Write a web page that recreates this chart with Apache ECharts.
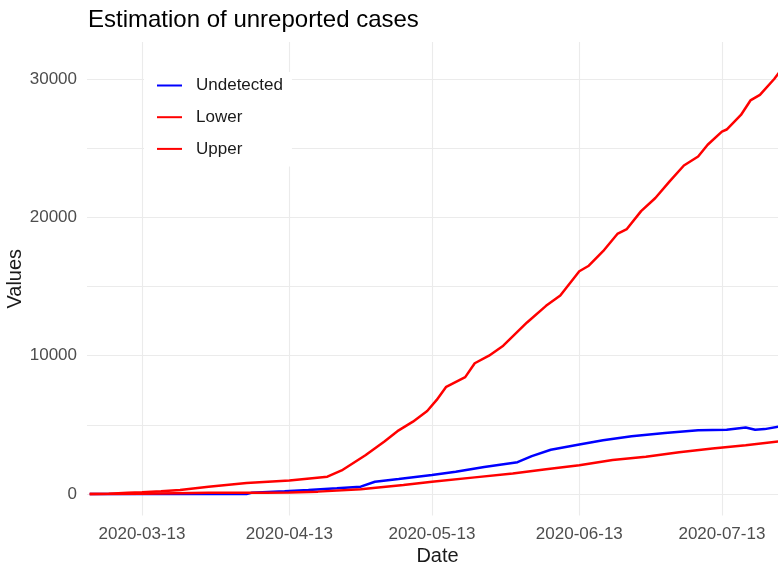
<!DOCTYPE html>
<html>
<head>
<meta charset="utf-8">
<script src="https://cdn.jsdelivr.net/npm/echarts@6/dist/echarts.min.js"></script>
<style>
  html, body { margin: 0; padding: 0; background: #fff; }
  #chart { width: 778px; height: 566px; }
</style>
</head>
<body>
<div id="chart"></div>
<script>
// values
const undetectedDates = ['2020-03-02', '2020-03-27', '2020-04-04', '2020-04-05', '2020-04-12', '2020-04-17',
    '2020-04-23', '2020-04-28', '2020-05-01', '2020-05-06', '2020-05-13', '2020-05-18', '2020-05-24',
    '2020-05-31', '2020-06-03', '2020-06-07', '2020-06-13', '2020-06-18', '2020-06-24', '2020-07-01',
    '2020-07-08', '2020-07-14', '2020-07-18', '2020-07-20', '2020-07-22', '2020-07-25']
const undetectedValues = [0, 0, 0, 80, 200, 290,
    410, 530, 880, 1080, 1370, 1610, 1950,
    2300, 2740, 3200, 3570, 3880, 4170, 4400,
    4600, 4640, 4810, 4640, 4690, 4880]

const lowerDates = ['2020-03-02', '2020-03-13', '2020-03-20', '2020-03-27', '2020-04-08', '2020-04-13',
    '2020-04-19', '2020-04-28', '2020-05-07', '2020-05-13', '2020-05-22', '2020-05-30', '2020-06-06',
    '2020-06-13', '2020-06-20', '2020-06-27', '2020-07-04', '2020-07-11', '2020-07-18', '2020-07-25']
const lowerValues = [0, 10, 60, 80, 90, 110,
    170, 340, 650, 890, 1200, 1480, 1785,
    2070, 2450, 2690, 3020, 3285, 3520, 3810]

const upperDates = ['2020-03-02', '2020-03-06', '2020-03-10', '2020-03-13', '2020-03-17', '2020-03-21',
    '2020-03-27', '2020-04-04', '2020-04-13', '2020-04-21', '2020-04-24', '2020-04-29', '2020-05-03',
    '2020-05-06', '2020-05-09', '2020-05-12', '2020-05-14', '2020-05-16', '2020-05-20', '2020-05-22',
    '2020-05-25', '2020-05-28', '2020-06-02', '2020-06-06', '2020-06-09', '2020-06-13', '2020-06-15',
    '2020-06-18', '2020-06-21', '2020-06-23', '2020-06-26', '2020-06-29', '2020-07-02', '2020-07-05',
    '2020-07-08', '2020-07-10', '2020-07-13', '2020-07-14', '2020-07-17', '2020-07-19', '2020-07-21',
    '2020-07-24', '2020-07-25']
const upperValues = [0, 20, 80, 120, 200, 290,
    530, 800, 980, 1250, 1700, 2800, 3800,
    4600, 5230, 6000, 6800, 7750, 8450, 9450,
    10000, 10720, 12400, 13600, 14350, 16100, 16500,
    17550, 18800, 19150, 20450, 21400, 22600, 23750,
    24400, 25250, 26200, 26350, 27400, 28450, 28850,
    30000, 30450]

const dateTicks = ['2020-03-13', '2020-04-13', '2020-05-13', '2020-06-13', '2020-07-13']
const valueTicks = [0, 10000, 20000, 30000]
const gridTicks = [0, 5000, 10000, 15000, 20000, 25000, 30000]

const DAY = 24 * 3600 * 1000
const FONT = '"Liberation Sans", Arial, sans-serif'

let chart = echarts.init(document.getElementById('chart'))

function toTime(d) {
    return +echarts.number.parseDate(d)
}

function zip(dates, values) {
    return dates.map((d, i) => [toTime(d), values[i]])
}

function fmtDate(v) {
    return echarts.time.format(v, '{yyyy}-{MM}-{dd}', false)
}

let base = toTime('2020-03-13')
let xTicks = dateTicks.map(toTime)

let option = {
    backgroundColor: '#fff',
    animation: false,
    title: {
        text: 'Estimation of unreported cases',
        left: 88,
        top: 8,
        padding: 0,
        textStyle: {fontFamily: FONT, fontSize: 24, fontWeight: 'normal', color: '#000'}
    },
    legend: {
        orient: 'vertical',
        left: 144,
        top: 72,
        padding: [5, 9, 9, 13],
        backgroundColor: '#fff',
        itemWidth: 25,
        itemHeight: 2,
        itemGap: 14.7,
        icon: 'rect',
        textStyle: {fontFamily: FONT, fontSize: 17, color: '#1a1a1a', lineHeight: 17, padding: [0, 0, 0, 9]},
        data: ['Undetected', 'Lower', 'Upper']
    },
    grid: {left: 87, top: 42, width: 691, bottom: 50.5, containLabel: false, outerBoundsMode: 'none'},
    xAxis: {
        type: 'value',
        min: base - 11.57 * DAY,
        max: base + 133.8 * DAY,
        name: 'Date',
        nameLocation: 'middle',
        nameGap: 31,
        nameMoveOverlap: false,
        nameTextStyle: {fontFamily: FONT, fontSize: 20, color: '#1a1a1a', padding: [0, 0, 0, 10]},
        axisLine: {show: false},
        axisTick: {show: false, customValues: xTicks},
        axisLabel: {
            customValues: xTicks,
            formatter: fmtDate,
            fontFamily: FONT, fontSize: 17, color: '#4d4d4d', margin: 10
        },
        splitLine: {show: true, lineStyle: {color: '#ebebeb', width: 1.1}}
    },
    yAxis: {
        type: 'value',
        min: -1556,
        max: 32676,
        name: 'Values',
        nameLocation: 'middle',
        nameGap: 62,
        nameMoveOverlap: false,
        nameTextStyle: {fontFamily: FONT, fontSize: 20, color: '#1a1a1a'},
        axisLine: {show: false},
        axisTick: {show: false, customValues: gridTicks},
        axisLabel: {
            customValues: valueTicks,
            formatter: v => String(v),
            fontFamily: FONT, fontSize: 17, color: '#4d4d4d', margin: 10
        },
        splitLine: {show: true, lineStyle: {color: '#ebebeb', width: 1.1}}
    },
    series: [
        {name: 'Undetected', type: 'line', data: zip(undetectedDates, undetectedValues),
            showSymbol: false, color: '#0000ff', lineStyle: {width: 2.5}},
        {name: 'Lower', type: 'line', data: zip(lowerDates, lowerValues),
            showSymbol: false, color: '#ff0000', lineStyle: {width: 2.5}},
        {name: 'Upper', type: 'line', data: zip(upperDates, upperValues),
            showSymbol: false, color: '#ff0000', lineStyle: {width: 2.5}}
    ]
}

chart.setOption(option)
</script>
</body>
</html>
